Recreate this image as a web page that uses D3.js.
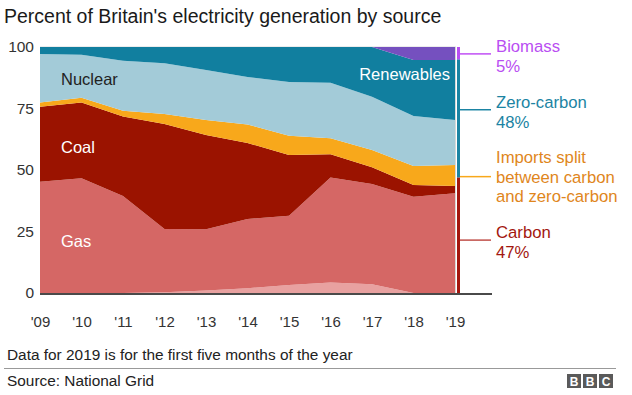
<!DOCTYPE html>
<html>
<head>
<meta charset="utf-8">
<script src="https://cdn.jsdelivr.net/npm/d3@7"></script>
<style>
  body { margin: 0; background: #fff; }
  svg { font-family: "Liberation Sans", Arial, Helvetica, sans-serif; }
</style>
</head>
<body>
<script>
// years and share of generation (%) by source
const years = [2009, 2010, 2011, 2012, 2013, 2014, 2015, 2016, 2017, 2018, 2019]
const other      = [0, 0, 0, 0.3, 1.0, 1.9, 3.3, 4.3, 3.6, 0, 0]
const gas        = [45.2, 46.6, 39.4, 25.7, 24.9, 28.2, 28.1, 42.7, 40.7, 39.1, 40.5]
const coal       = [30.5, 30.8, 32.3, 42.7, 38.3, 30.9, 24.7, 9.4, 6.8, 4.8, 3.0]
const imports    = [1.7, 2.0, 2.4, 4.1, 6.1, 7.5, 7.8, 6.5, 7.0, 7.7, 8.5]
const nuclear    = [19.8, 17.5, 20.3, 20.6, 20.4, 19.3, 21.9, 22.6, 21.7, 20.4, 18.3]
const renewables = [2.8, 3.1, 5.6, 6.6, 9.3, 12.2, 14.2, 14.5, 20.2, 22.7, 24.4]
const biomass    = [0, 0, 0, 0, 0, 0, 0, 0, 0, 5.3, 5.3]

const yTicks = [0, 25, 50, 75, 100]

// 2019 summary bar on the right
const summaryNames = ["Carbon", "Zero-carbon", "Biomass"]
const summaryValues = [47, 48, 5]

const keys = ["other", "gas", "coal", "imports", "nuclear", "renewables", "biomass"]
const series = { other, gas, coal, imports, nuclear, renewables, biomass }
const colors = {
    other: "#e8a1a0",
    gas: "#d56765",
    coal: "#9b1300",
    imports: "#f8a81b",
    nuclear: "#a3cbd8",
    renewables: "#117f9f",
    biomass: "#7550bf"
}

const rows = years.map((yr, i) => {
    const r = { year: yr }
    keys.forEach(k => r[k] = series[k][i])
    return r
})

const W = 632, H = 395
const svg = d3.select("body").append("svg")
    .attr("width", W)
    .attr("height", H)

const x = d3.scaleLinear().domain([2009, 2019]).range([40, 455])
const y = d3.scaleLinear().domain([0, 100]).range([293, 47])

// title
svg.append("text")
    .attr("x", 4)
    .attr("y", 23)
    .attr("font-size", 19.5)
    .attr("fill", "#1a1a1a")
    .text("Percent of Britain's electricity generation by source")

// faint frame lines behind the areas
svg.append("line")
    .attr("x1", x(2009)).attr("x2", x(2019) + 1)
    .attr("y1", y(100)).attr("y2", y(100))
    .attr("stroke", "#d8d8d8")
svg.append("line")
    .attr("x1", x(2019) + 0.5).attr("x2", x(2019) + 0.5)
    .attr("y1", y(100)).attr("y2", y(0))
    .attr("stroke", "#d8d8d8")

//stacked areas
const stacked = d3.stack().keys(keys)(rows)
const area = d3.area()
    .x(d => x(d.data.year))
    .y0(d => y(d[0]))
    .y1(d => y(d[1]))
    .curve(d3.curveLinear)

svg.append("g")
    .selectAll("path")
    .data(stacked)
    .join("path")
    .attr("d", area)
    .attr("fill", d => colors[d.key])

// axes
const yAxis = svg.append("g")
    .attr("transform", `translate(${x(2009)},0)`)
    .call(d3.axisLeft(y).tickValues(yTicks).tickSize(0).tickPadding(6))
yAxis.select(".domain").remove()
yAxis.selectAll("text")
    .attr("font-size", 15.5)
    .attr("fill", "#333")
    .attr("font-family", "Liberation Sans, Arial, sans-serif")

const xAxis = svg.append("g")
    .attr("transform", `translate(0,${y(0)})`)
    .call(d3.axisBottom(x).tickValues(years).tickSize(0).tickPadding(23)
        .tickFormat(d => "'" + String(d).slice(2)))
xAxis.select(".domain").remove()
xAxis.selectAll("text")
    .attr("font-size", 15)
    .attr("fill", "#333")
    .attr("font-family", "Liberation Sans, Arial, sans-serif")

svg.append("line")
    .attr("x1", x(2009)).attr("x2", 492)
    .attr("y1", y(0) + 1).attr("y2", y(0) + 1)
    .attr("stroke", "#4a4a4a")
    .attr("stroke-width", 2)

// in-chart labels
const inLabels = [
    { t: "Nuclear", x: 61, y: 85, c: "#222", a: "start" },
    { t: "Coal", x: 61, y: 153, c: "#fff", a: "start" },
    { t: "Gas", x: 61, y: 247, c: "#fff", a: "start" },
    { t: "Renewables", x: 450, y: 80, c: "#fff", a: "end" }
]
svg.append("g").selectAll("text")
    .data(inLabels)
    .join("text")
    .attr("x", d => d.x)
    .attr("y", d => d.y)
    .attr("text-anchor", d => d.a)
    .attr("font-size", 16.5)
    .attr("fill", d => d.c)
    .text(d => d.t)

// 2019 summary bar
const barColors = ["#a3170f", "#1b84a3", "#b94ef2"]
let acc = 0
const segs = summaryValues.map((v, i) => {
    const s = { name: summaryNames[i], y0: acc, y1: acc + v, color: barColors[i] }
    acc += v
    return s
})
svg.append("g").selectAll("rect")
    .data(segs)
    .join("rect")
    .attr("x", 457)
    .attr("width", 3)
    .attr("y", d => y(d.y1))
    .attr("height", d => y(d.y0) - y(d.y1))
    .attr("fill", d => d.color)

// leader lines and labels on the right
const notes = [
    { lines: ["Biomass", "5%"], ly: y(97.2), ty: 52, c: "#b94ef2", lc: "#c050f5" },
    { lines: ["Zero-carbon", "48%"], ly: y(74.5), ty: 108, c: "#1b84a3", lc: "#1b84a3" },
    { lines: ["Imports split", "between carbon", "and zero-carbon"], ly: y(47.3), ty: 163, c: "#e0861c", lc: "#f8a81b" },
    { lines: ["Carbon", "47%"], ly: y(21.5), ty: 238, c: "#a3170f", lc: "#c0504a" }
]
notes.forEach(n => {
    svg.append("line")
        .attr("x1", 460).attr("x2", 491)
        .attr("y1", n.ly).attr("y2", n.ly)
        .attr("stroke", n.lc)
        .attr("stroke-width", 1.5)
    const t = svg.append("text")
        .attr("x", 496)
        .attr("y", n.ty)
        .attr("font-size", 16.7)
        .attr("fill", n.c)
    n.lines.forEach((l, i) => {
        t.append("tspan").attr("x", 496).attr("dy", i ? 19.5 : 0).text(l)
    })
})

// footer
svg.append("text")
    .attr("x", 7).attr("y", 360)
    .attr("font-size", 15.4)
    .attr("fill", "#222")
    .text("Data for 2019 is for the first five months of the year")
svg.append("line")
    .attr("x1", 4).attr("x2", 616)
    .attr("y1", 368.5).attr("y2", 368.5)
    .attr("stroke", "#999")
svg.append("text")
    .attr("x", 7).attr("y", 386)
    .attr("font-size", 15.4)
    .attr("fill", "#222")
    .text("Source: National Grid")

const logo = svg.append("g").attr("transform", "translate(567,374)")
;["B", "B", "C"].forEach((l, i) => {
    logo.append("rect")
        .attr("x", i * 16).attr("width", 14).attr("height", 14)
        .attr("fill", "#5a5a5a")
    logo.append("text")
        .attr("x", i * 16 + 7).attr("y", 12)
        .attr("text-anchor", "middle")
        .attr("font-size", 12)
        .attr("font-weight", "bold")
        .attr("fill", "#fff")
        .text(l)
})
</script>
</body>
</html>
